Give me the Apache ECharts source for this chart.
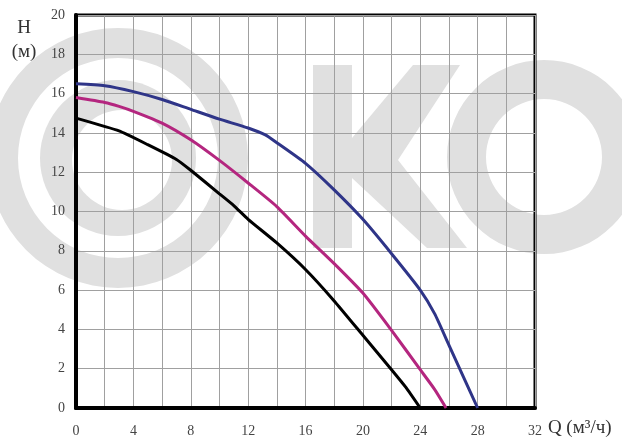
<!DOCTYPE html>
<html>
<head>
<meta charset="utf-8">
<style>
  html, body { margin: 0; padding: 0; background: #fff; }
  #chart { width: 622px; height: 439px; }
</style>
<script src="https://cdn.jsdelivr.net/npm/echarts@6/dist/echarts.min.js"></script>
</head>
<body>
<div id="chart"></div>
<script>
// Pump performance curves: head H (m) against flow Q (m³/h)
var flowTicks = [0, 4, 8, 12, 16, 20, 24, 28, 32];
var headTicks = [0, 2, 4, 6, 8, 10, 12, 14, 16, 18, 20];

var flowHigh = [0, 2, 4, 6, 8, 10, 12, 13.2, 14, 16, 18, 20, 22, 24, 25, 26, 27, 28];
var headHigh = [16.5, 16.4, 16.1, 15.7, 15.2, 14.7, 14.25, 13.9, 13.5, 12.45, 11.1, 9.6, 7.85, 6.0, 4.8, 3.2, 1.6, 0];

var flowMid = [0, 2, 3, 4, 6, 8, 10, 12, 14, 16, 18, 20, 22, 24, 25, 25.8];
var headMid = [15.8, 15.55, 15.35, 15.1, 14.5, 13.65, 12.6, 11.45, 10.25, 8.75, 7.35, 5.85, 3.95, 1.95, 0.95, 0];

var flowLow = [0, 3, 5, 7, 8, 10, 11, 12, 14, 16, 18, 20, 22, 23, 24];
var headLow = [14.75, 14.1, 13.4, 12.65, 12.1, 10.9, 10.3, 9.6, 8.4, 7.05, 5.45, 3.7, 1.95, 1.05, 0];

function pairs(q, h) {
  return q.map(function (v, i) { return [v, h[i]]; });
}

var serifFont = '"Liberation Serif", "DejaVu Serif", serif';
var mark = '#e0e0e0';

// faint brand mark in the background, plus the head-axis caption
var decorations = [
  { type: 'ring', z: -10, silent: true, shape: { cx: 118, cy: 158, r: 130, r0: 100 }, style: { fill: mark } },
  { type: 'circle', z: -10, silent: true, shape: { cx: 118, cy: 158, r: 78 }, style: { fill: mark } },
  { type: 'circle', z: -9, silent: true, shape: { cx: 122, cy: 160, r: 50 }, style: { fill: '#fff' } },
  { type: 'rect', z: -10, silent: true, shape: { x: 313, y: 65, width: 39, height: 183 }, style: { fill: mark } },
  { type: 'polygon', z: -10, silent: true,
    shape: { points: [[352, 138], [413, 65], [460, 65], [398, 160], [467, 248], [427, 248], [352, 178]] },
    style: { fill: mark } },
  { type: 'ring', z: -10, silent: true, shape: { cx: 544, cy: 157, r: 97, r0: 58 }, style: { fill: mark } },
  { type: 'text', z: 10, silent: true, x: 24, y: 40,
    style: {
      text: 'H\n(м)', fill: '#333', font: '19px ' + serifFont, lineHeight: 24,
      align: 'center', verticalAlign: 'middle'
    } }
];

var chart = echarts.init(document.getElementById('chart'), null, { renderer: 'canvas' });

chart.setOption({
  backgroundColor: '#fff',
  animation: false,
  graphic: decorations,
  grid: {
    left: 76, right: 87, top: 15, bottom: 31,
    outerBoundsMode: 'none',
    show: true,
    borderColor: '#000',
    borderWidth: 3,
    backgroundColor: 'transparent'
  },
  xAxis: {
    type: 'value',
    min: 0, max: 32, interval: 2,
    name: 'Q (м³/ч)',
    nameLocation: 'end',
    nameGap: 11,
    nameTextStyle: {
      fontFamily: serifFont, fontSize: 19, color: '#333',
      align: 'left', verticalAlign: 'top', padding: [11, 0, 0, 0]
    },
    axisLine: { show: true, onZero: false, lineStyle: { color: '#000', width: 4 } },
    axisTick: { show: false },
    axisLabel: {
      margin: 16,
      fontFamily: serifFont, fontSize: 14, color: '#444',
      formatter: function (v) { return flowTicks.indexOf(v) >= 0 ? String(v) : ''; }
    },
    splitLine: { show: true, lineStyle: { color: '#a0a0a0', width: 1 } }
  },
  yAxis: {
    type: 'value',
    min: 0, max: 20, interval: 2,
    axisLine: { show: true, onZero: false, lineStyle: { color: '#000', width: 4 } },
    axisTick: { show: false },
    axisLabel: {
      margin: 11,
      fontFamily: serifFont, fontSize: 14, color: '#444',
      formatter: function (v) { return headTicks.indexOf(v) >= 0 ? String(v) : ''; }
    },
    splitLine: { show: true, lineStyle: { color: '#a0a0a0', width: 1 } }
  },
  series: [
    {
      type: 'line', name: 'high', data: pairs(flowHigh, headHigh),
      showSymbol: false, smooth: 0.2, z: 5,
      lineStyle: { color: '#2f3588', width: 3 }
    },
    {
      type: 'line', name: 'mid', data: pairs(flowMid, headMid),
      showSymbol: false, smooth: 0.2, z: 4,
      lineStyle: { color: '#b4267f', width: 3 }
    },
    {
      type: 'line', name: 'low', data: pairs(flowLow, headLow),
      showSymbol: false, smooth: 0.15, z: 3,
      lineStyle: { color: '#000', width: 3 }
    }
  ]
});
</script>
</body>
</html>
